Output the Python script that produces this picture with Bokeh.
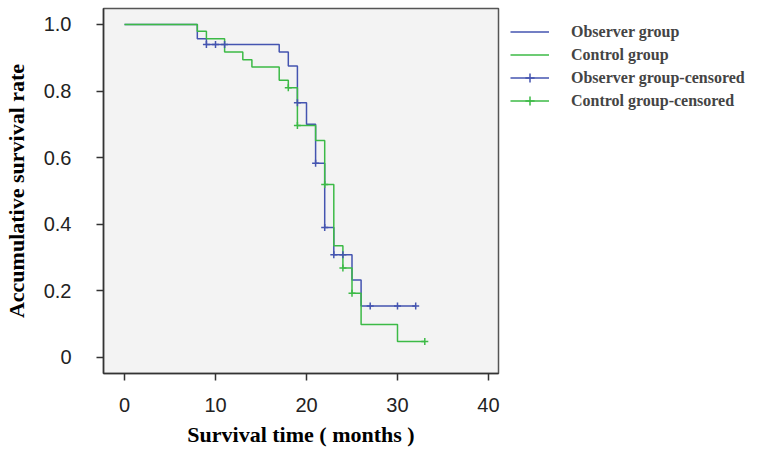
from bokeh.plotting import figure
from bokeh.models import Legend, LegendItem, FixedTicker, Range1d
from bokeh.embed import file_html
from bokeh.resources import INLINE

# ---- data ----
obs_time = [0, 8, 9, 17, 18, 19, 20, 21, 22, 23, 25, 26, 32]
obs_surv = [1.0, 0.957, 0.94, 0.917, 0.875, 0.765, 0.70, 0.583, 0.39, 0.308, 0.232, 0.154, 0.154]
ctl_time = [0, 8, 9, 11, 13, 14, 17, 18, 19, 21, 22, 23, 24, 25, 26, 30, 33]
ctl_surv = [1.0, 0.98, 0.957, 0.917, 0.894, 0.872, 0.832, 0.81, 0.696, 0.651, 0.519, 0.335,
            0.268, 0.192, 0.098, 0.047, 0.047]
obs_cens_time = [9, 10, 11, 19, 21, 22, 23, 24, 27, 30, 32]
obs_cens_surv = [0.94, 0.94, 0.94, 0.765, 0.583, 0.39, 0.308, 0.308, 0.154, 0.154, 0.154]
ctl_cens_time = [18, 19, 22, 24, 25, 33]
ctl_cens_surv = [0.81, 0.696, 0.519, 0.268, 0.192, 0.047]

x_ticks = [0, 10, 20, 30, 40]
y_ticks = [0, 0.2, 0.4, 0.6, 0.8, 1.0]
y_tick_labels = ["0", "0.2", "0.4", "0.6", "0.8", "1.0"]
series_labels = ["Observer group", "Control group",
                 "Observer group-censored", "Control group-censored"]

BLUE = "#4454b0"
GREEN = "#3cba46"

p = figure(frame_width=395, frame_height=365,
           x_range=Range1d(-2.31, 41.1), y_range=Range1d(-0.049, 1.048),
           output_backend="svg", toolbar_location=None,
           min_border_left=95, min_border_right=0,
           min_border_top=8, min_border_bottom=78)

p.background_fill_color = "#f3f3f3"
p.border_fill_color = "white"
p.outline_line_color = "#555555"
p.outline_line_width = 1.5
p.xgrid.visible = False
p.ygrid.visible = False

r_obs = p.step(obs_time, obs_surv, mode="after", line_color=BLUE, line_width=1.5)
r_ctl = p.step(ctl_time, ctl_surv, mode="after", line_color=GREEN, line_width=1.5)
r_obs_c = p.scatter(obs_cens_time, obs_cens_surv, marker="cross", size=7,
                    line_color=BLUE, line_width=1.5)
r_ctl_c = p.scatter(ctl_cens_time, ctl_cens_surv, marker="cross", size=7,
                    line_color=GREEN, line_width=1.5)

for ax in (p.xaxis[0], p.yaxis[0]):
    ax.axis_line_color = "#333333"
    ax.axis_line_width = 1.5
    ax.major_tick_line_color = "#333333"
    ax.major_tick_line_width = 1.5
    ax.major_tick_in = 0
    ax.major_tick_out = 7
    ax.minor_tick_line_color = None
    ax.major_label_text_font = "Liberation Sans"
    ax.major_label_text_font_size = "20px"
    ax.major_label_text_color = "#222222"
    ax.axis_label_text_font = "Liberation Serif"
    ax.axis_label_text_font_style = "bold"
    ax.axis_label_text_font_size = "22px"
    ax.axis_label_text_color = "black"

p.xaxis.ticker = FixedTicker(ticks=x_ticks)
p.yaxis.ticker = FixedTicker(ticks=y_ticks)
p.yaxis.major_label_overrides = {t: l for t, l in zip(y_ticks, y_tick_labels)}
p.xaxis.axis_label = "Survival time ( months )"
p.yaxis.axis_label = "Accumulative survival rate"
p.xaxis.major_label_standoff = 17
p.xaxis.axis_label_standoff = 7
p.yaxis.major_label_standoff = 25
p.yaxis.axis_label_standoff = 12

legend = Legend(items=[
    LegendItem(label=series_labels[0], renderers=[r_obs]),
    LegendItem(label=series_labels[1], renderers=[r_ctl]),
    LegendItem(label=series_labels[2], renderers=[r_obs, r_obs_c]),
    LegendItem(label=series_labels[3], renderers=[r_ctl, r_ctl_c]),
], location="top_left")
legend.label_text_font = "Liberation Serif"
legend.label_text_font_style = "bold"
legend.label_text_font_size = "16px"
legend.glyph_width = 39
legend.glyph_height = 23
legend.label_height = 23
legend.spacing = 0
legend.label_standoff = 22
legend.padding = 0
legend.margin = 12
legend.border_line_alpha = 0
legend.background_fill_alpha = 0
p.add_layout(legend, "right")

open("out.html", "w").write(file_html(p, INLINE))
